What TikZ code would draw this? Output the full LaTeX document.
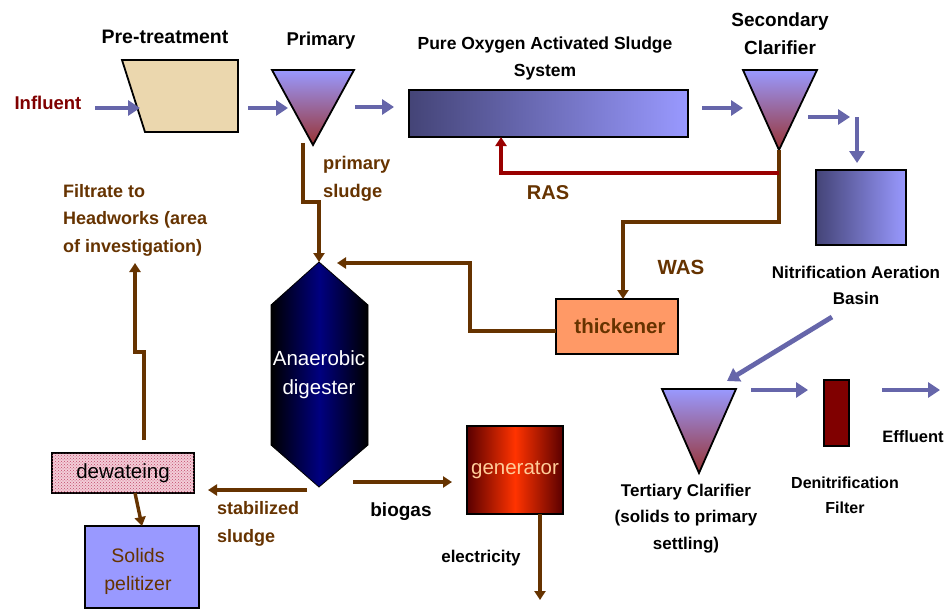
\documentclass[tikz,border=0pt]{standalone}
\usepackage{fontspec}
\setmainfont{Liberation Sans}
\usetikzlibrary{arrows.meta,patterns}
\definecolor{brn}{HTML}{663300}
\definecolor{flowc}{HTML}{6666AA}
\definecolor{infc}{HTML}{800000}
\definecolor{rasc}{HTML}{990000}
\definecolor{triA}{HTML}{9999FF}
\definecolor{triB}{HTML}{993333}
\definecolor{slateA}{HTML}{444477}
\definecolor{navyc}{HTML}{000080}
\definecolor{genA}{HTML}{5A0000}
\definecolor{genB}{HTML}{FF3300}
\definecolor{thk}{HTML}{FF9966}
\definecolor{sol}{HTML}{9999FF}
\definecolor{beige}{HTML}{EBD7AE}
\definecolor{pinkc}{HTML}{F3CDD8}
\definecolor{pinkdot}{HTML}{C04A6A}
\definecolor{gentxt}{HTML}{FFCC99}
\newcommand\fsz[2]{\fontsize{#1}{#2}\selectfont}
\begin{document}
\begin{tikzpicture}[x=1pt,y=-1pt,
  lab/.style={font=\bfseries\fsz{18}{27}, align=center, inner sep=0pt},
  reg/.style={font=\fsz{20.5}{29}, align=center, inner sep=0pt},
  flow/.style={draw=flowc, line width=4.8pt, -{Triangle[length=12pt,width=15pt]}},
  sludge/.style={draw=brn, line width=3.4pt, -{Triangle[length=9pt,width=11pt]}},
  outl/.style={draw=black, line width=1.8pt},
  box/.style={outl, inner sep=0pt, outer sep=0pt},
]
\useasboundingbox (0,0) rectangle (948,610);
\fill[white] (0,0) rectangle (948,610);

% ---------- shapes ----------
\filldraw[outl, fill=beige] (122,60) coordinate (ptNW) -- (238,60) -- (238,132) -- (145,132) -- cycle;
\shadedraw[outl, top color=triA, bottom color=triB] (272,70) -- (354,70) -- (313,145) coordinate (priApex) -- cycle;
\node[box, minimum width=279pt, minimum height=47pt, left color=slateA, right color=triA] (poas) at (548.5,113.5) {};
\shadedraw[outl, top color=triA, bottom color=triB] (743,70) -- (817,70) -- (779,150) coordinate (secApex) -- cycle;
\node[box, minimum width=90pt, minimum height=75pt, left color=slateA, right color=triA] (nit) at (861,207.5) {};
\shadedraw[outl, top color=triA, bottom color=triB] (662,389) -- (736,389) -- (699,473) coordinate (terApex) -- cycle;
\node[box, minimum width=25pt, minimum height=66pt, fill=infc] (filt) at (836.5,413) {};
\node[box, minimum width=122pt, minimum height=55pt, fill=thk, text=brn, font=\bfseries\fsz{20.5}{24}] (thick) at (617,326.5) {\hspace*{6pt}thickener};
\shadedraw[draw=black, line width=0.8pt, left color=black, right color=black, middle color=navyc]
  (319,262) coordinate (digTop) -- (368,305) -- (368,445) -- (319,487) coordinate (digBot) -- (271,445) -- (271,305) -- cycle;
\node[reg, text=white] (dig) at (319,375) {Anaerobic\\digester};
\node[box, minimum width=96pt, minimum height=88pt, left color=genA, right color=genA, middle color=genB,
  text=gentxt, font=\fsz{20.5}{24}] (gen) at (515,470) {generator};
\node[box, minimum width=142pt, minimum height=40pt, fill=pinkc,
  postaction={pattern=crosshatch dots, pattern color=pinkdot}] (dew) at (123,473) {};
\node[reg, text=black] (dewt) at (123,473) {dewateing};
\node[box, minimum width=114pt, minimum height=82pt, fill=sol] (sol) at (142,567) {};
\node[reg, text=brn, font=\fsz{19.5}{28}] (solt) at (138,571) {Solids\\pelitizer};

% ---------- labels ----------
\node[lab, text=infc, font=\bfseries\fsz{18.5}{27}] (infl) at (48,103) {Influent};
\node[lab, font=\bfseries\fsz{19.5}{27}] (ptl) at (165,37) {Pre-treatment};
\node[lab, font=\bfseries\fsz{18.5}{27}] (pril) at (321,41) {Primary};
\node[lab, font=\bfseries\fsz{17.5}{27}] (poasl) at (545,58.5) {Pure Oxygen Activated Sludge\\System};
\node[lab, font=\bfseries\fsz{19}{28}] (secl) at (780,34) {Secondary\\Clarifier};
\node[lab, font=\bfseries\fsz{17}{26}] (nitl) at (856,285.5) {Nitrification Aeration\\Basin};
\node[lab, font=\bfseries\fsz{17}{26.5}] (terl) at (686,518.5) {Tertiary Clarifier\\(solids to primary\\settling)};
\node[lab, font=\bfseries\fsz{16}{25}] (denl) at (845,495.5) {Denitrification\\Filter};
\node[lab, font=\bfseries\fsz{16.5}{25}] (effl) at (913,437) {Effluent};
\node[lab, text=brn, align=left, anchor=west, font=\bfseries\fsz{18.3}{28}] (psl) at (323,179) {primary\\sludge};
\node[lab, text=brn, font=\bfseries\fsz{20}{24}] (rasl) at (548,193) {RAS};
\node[lab, text=brn, font=\bfseries\fsz{20.5}{24}] (wasl) at (681,267) {WAS};
\node[lab, text=brn, align=left, anchor=west, font=\bfseries\fsz{18}{27.5}] (filtl) at (63,220) {Filtrate to\\Headworks (area\\of investigation)};
\node[lab, text=brn, align=left, anchor=west, font=\bfseries\fsz{18}{28}] (stabl) at (217,524) {stabilized\\sludge};
\node[lab, font=\bfseries\fsz{19}{24}] (biol) at (401,512) {biogas};
\node[lab, font=\bfseries\fsz{17}{24}] (elel) at (481,558) {electricity};

% ---------- flow arrows ----------
\coordinate (a1s) at (95,108);  \coordinate (a1e) at (140,108);
\coordinate (a2s) at (248,108); \coordinate (a2e) at (288,108);
\coordinate (a3s) at (355,107); \coordinate (a3e) at (394,107);
\coordinate (a4s) at (702,108); \coordinate (a4e) at (743,108);
\coordinate (a5s) at (808,117); \coordinate (a5e) at (850,117);
\coordinate (a6s) at (857,117); \coordinate (a6e) at (857,163);
\coordinate (a7s) at (832,317); \coordinate (a7e) at (727,381);
\coordinate (a8s) at (751,390); \coordinate (a8e) at (808,390);
\coordinate (a9s) at (882,390); \coordinate (a9e) at (940,390);
\foreach \a in {1,...,9} {\draw[flow] (a\a s) -- (a\a e);}

% ---------- sludge lines ----------
\draw[sludge] (303,143) -- (303,202) -- (319,202) -- (digTop);
\draw[sludge] (secApex) -- (779,222) -- (623,222) -- (thick.north -| 623,0);
\draw[draw=rasc, line width=3.4pt, -{Triangle[length=9pt,width=11pt]}] (779,173) -- (501,173) -- (poas.south -| 501,0);
\draw[sludge] (thick.west |- 0,331) -- (470,331) -- (470,263) -- (337,263);
\draw[sludge] (307,490) -- (208,490);
\draw[sludge] (353,482) -- (452,482);
\draw[sludge] (gen.south -| 540,0) -- (540,600);
\draw[sludge] (dew.south -| 135,0) -- (sol.north -| 142,0);
\draw[sludge] (144,440) -- (144,352) -- (135,352) -- (135,263);
\end{tikzpicture}
\end{document}
